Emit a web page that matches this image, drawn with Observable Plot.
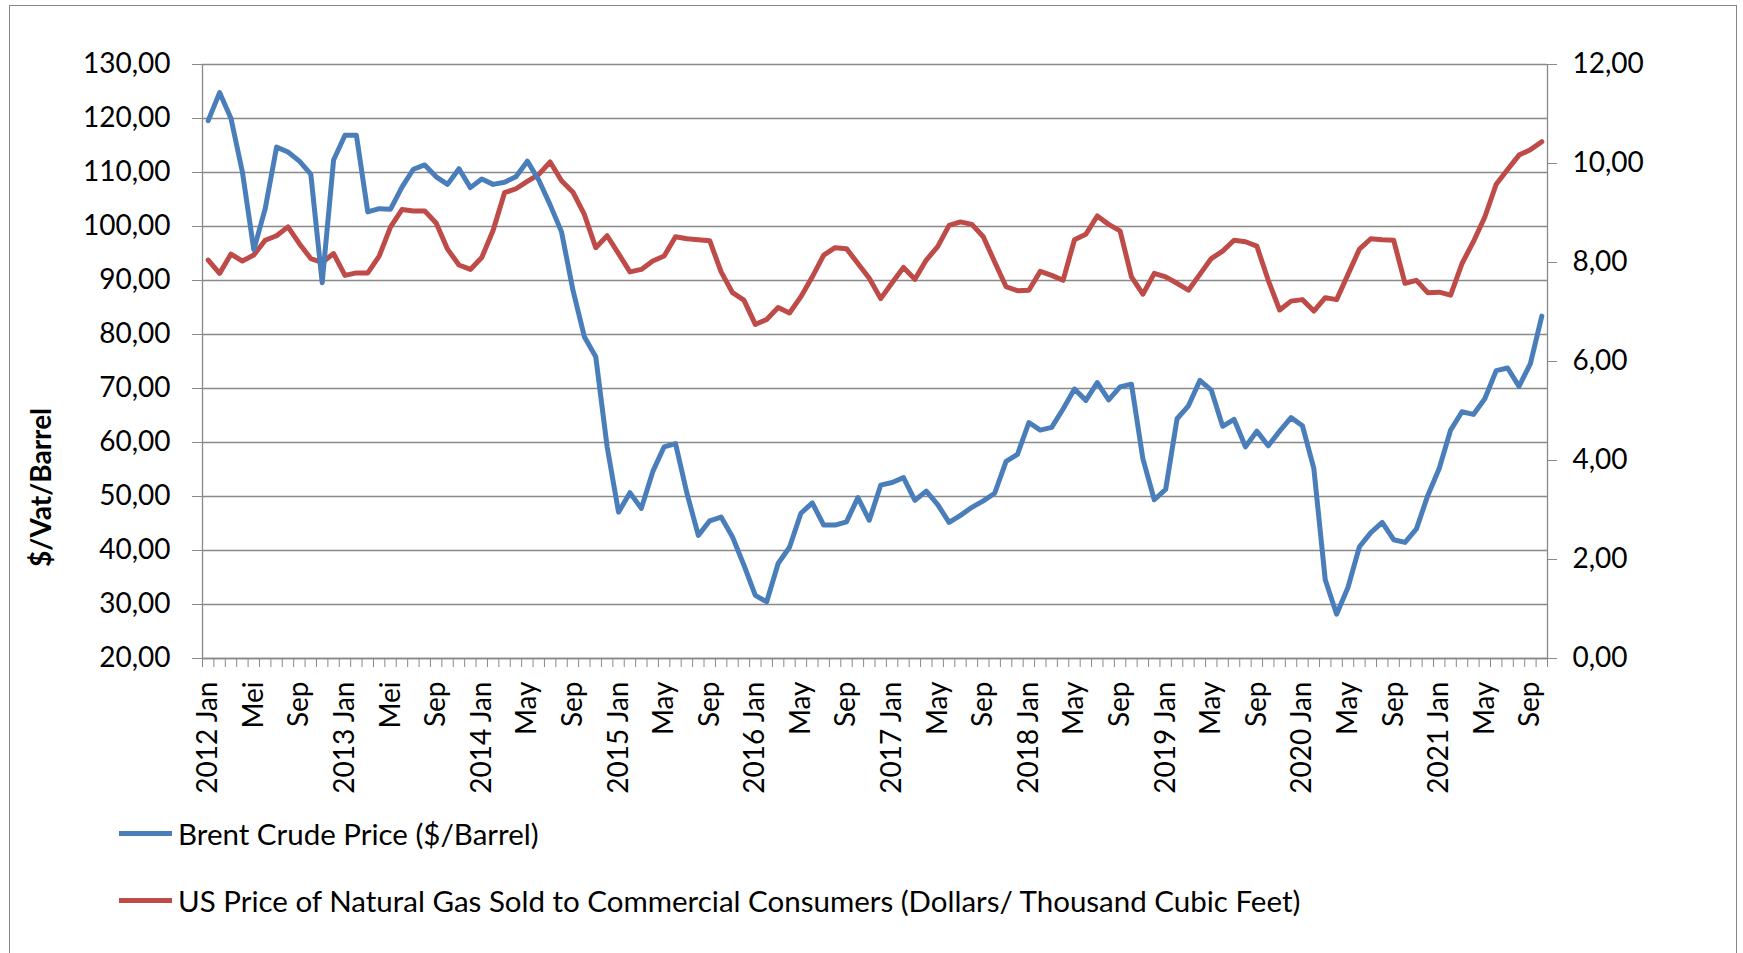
<!DOCTYPE html>
<html><head><meta charset="utf-8">
<script src="https://cdn.jsdelivr.net/npm/d3@7"></script>
<script src="https://cdn.jsdelivr.net/npm/@observablehq/plot@0.6"></script>
<style>
html,body{margin:0;padding:0;background:#fff;width:1743px;height:953px;overflow:hidden;font-family:Lato,sans-serif;}
#frame{position:absolute;left:9px;top:5px;width:1728px;height:1000px;border:1px solid #868686;box-sizing:border-box;}
#chart{position:absolute;left:0;top:0;}
.item{position:absolute;left:119px;height:40px;display:flex;align-items:center;font-size:29.5px;color:#000;white-space:nowrap;font-family:Lato,sans-serif;}
.sw{width:53px;height:5px;margin-right:6px;}
</style></head><body>
<div id="frame"></div>
<div id="chart"></div>
<div class="item" style="top:813px"><span class="sw" style="background:#4A7EBB"></span><span id="l1"></span></div>
<div class="item" style="top:880px"><span class="sw" style="background:#BE4B48"></span><span id="l2"></span></div>
<script>
// Monthly categories Jan 2012 .. Oct 2021
const years = [2012,2013,2014,2015,2016,2017,2018,2019,2020,2021];
const months = [];
for (const yr of years) for (let m = 1; m <= 12; m++) if (months.length < 118) months.push(`${yr}-${String(m).padStart(2,"0")}`);

// Brent Crude Price ($/Barrel), left axis
const brent = [
 119.6,124.8,120.0,110.1,95.7,103.3,114.7,113.8,112.1,109.7,89.6,112.3,
 116.9,116.9,102.7,103.3,103.2,107.3,110.6,111.4,109.2,107.8,110.7,107.2,
 108.8,107.8,108.2,109.2,112.1,108.6,104.0,99.0,88.2,79.6,75.9,59.2,
 47.1,50.7,47.8,54.6,59.2,59.8,50.6,42.8,45.5,46.2,42.5,37.3,
 31.7,30.5,37.6,40.6,46.9,48.8,44.7,44.7,45.3,49.8,45.6,52.1,
 52.6,53.5,49.3,51.0,48.5,45.2,46.5,48.0,49.2,50.6,56.5,57.8,
 63.7,62.3,62.8,66.2,69.9,67.8,71.1,67.9,70.3,70.8,57.0,49.4,
 51.3,64.4,66.8,71.5,69.7,63.0,64.3,59.2,62.1,59.4,62.1,64.6,
 63.1,55.2,34.6,28.2,33.2,40.7,43.3,45.2,42.0,41.5,44.0,50.2,
 55.2,62.3,65.7,65.2,68.1,73.3,73.8,70.4,74.6,83.4
];
// US Price of Natural Gas Sold to Commercial Consumers, right axis
const gas = [
 8.05,7.78,8.17,8.03,8.15,8.45,8.54,8.72,8.38,8.08,8.00,8.18,
 7.74,7.79,7.79,8.13,8.72,9.07,9.04,9.04,8.80,8.27,7.95,7.86,
 8.10,8.65,9.41,9.49,9.64,9.78,10.03,9.65,9.42,8.97,8.30,8.54,
 8.18,7.81,7.86,8.03,8.13,8.52,8.48,8.46,8.44,7.81,7.39,7.24,
 6.75,6.85,7.09,6.98,7.31,7.71,8.15,8.30,8.28,7.98,7.68,7.27,
 7.59,7.90,7.66,8.05,8.32,8.75,8.82,8.77,8.52,8.01,7.51,7.43,
 7.44,7.82,7.74,7.64,8.46,8.57,8.94,8.77,8.64,7.71,7.36,7.78,
 7.71,7.58,7.44,7.76,8.08,8.23,8.45,8.42,8.33,7.64,7.04,7.22,
 7.25,7.02,7.29,7.25,7.76,8.27,8.48,8.46,8.45,7.58,7.64,7.39,
 7.40,7.34,7.98,8.42,8.92,9.58,9.88,10.17,10.28,10.44
];

const xTickLabels = ["2012 Jan","Mei","Sep","2013 Jan","Mei","Sep","2014 Jan","May","Sep",
 "2015 Jan","May","Sep","2016 Jan","May","Sep","2017 Jan","May","Sep","2018 Jan","May","Sep",
 "2019 Jan","May","Sep","2020 Jan","May","Sep","2021 Jan","May","Sep"];
const leftTicks = [20,30,40,50,60,70,80,90,100,110,120,130];
const rightTicks = [0,2,4,6,8,10,12];
const seriesNames = ["Brent Crude Price ($/Barrel)",
 "US Price of Natural Gas Sold to Commercial Consumers (Dollars/ Thousand Cubic Feet)"];
const yTitle = "$/Vat/Barrel";

const rows = months.map((m, i) => ({i, m, brent: brent[i], gas: gas[i]}));
const labelIdx = xTickLabels.map((_, k) => k * 4);
const fmt = v => v.toFixed(2).replace(".", ",");
const g2y = g => 20 + g * 110 / 12;
const y2g = y => (y - 20) * 12 / 110;
const GRID = "#898989";

const chart = Plot.plot({
  width: 1743, height: 760,
  marginLeft: 202, marginRight: 196, marginTop: 64, marginBottom: 102,
  x: {type: "linear", domain: [-0.5, months.length - 0.5]},
  y: {domain: [20, 130]},
  style: {fontFamily: "Lato, sans-serif", fontSize: "28px", color: "#000", background: "transparent", overflow: "visible"},
  marks: [
    Plot.gridY(leftTicks, {stroke: GRID, strokeOpacity: 1, strokeWidth: 1.3}),
    Plot.ruleX([-0.5, months.length - 0.5], {stroke: GRID, strokeWidth: 1.3}),
    Plot.ruleY([20], {stroke: GRID, strokeWidth: 1.3}),
    Plot.axisY({ticks: leftTicks, tickFormat: fmt, tickSize: 10, tickPadding: 22, stroke: GRID, fill: "#000", label: null}),
    Plot.axisY({anchor: "right", ticks: rightTicks.map(g2y), tickFormat: d => fmt(y2g(d)), tickSize: 9, tickPadding: 16, stroke: GRID, fill: "#000", label: null}),
    Plot.axisX({ticks: d3.range(months.length + 1).map(k => k - 0.5), tickSize: 9, tickFormat: () => "", stroke: GRID, label: null}),
    Plot.axisX({ticks: labelIdx, tickSize: 0, tickPadding: 23, tickRotate: -90, tickFormat: d => xTickLabels[labelIdx.indexOf(d)], fill: "#000", label: null}),
    Plot.line(rows, {x: "i", y: d => g2y(d.gas), stroke: "#BE4B48", strokeWidth: 5, strokeLinejoin: "round", strokeLinecap: "round"}),
    Plot.line(rows, {x: "i", y: "brent", stroke: "#4A7EBB", strokeWidth: 5, strokeLinejoin: "round", strokeLinecap: "round"}),
    Plot.text([yTitle], {frameAnchor: "left", dx: -160, dy: 126, rotate: -90, textAnchor: "middle", fontWeight: "bold", fill: "#000"})
  ]
});
document.getElementById("chart").appendChild(chart);
document.getElementById("l1").textContent = seriesNames[0];
document.getElementById("l2").textContent = seriesNames[1];
</script></body></html>
